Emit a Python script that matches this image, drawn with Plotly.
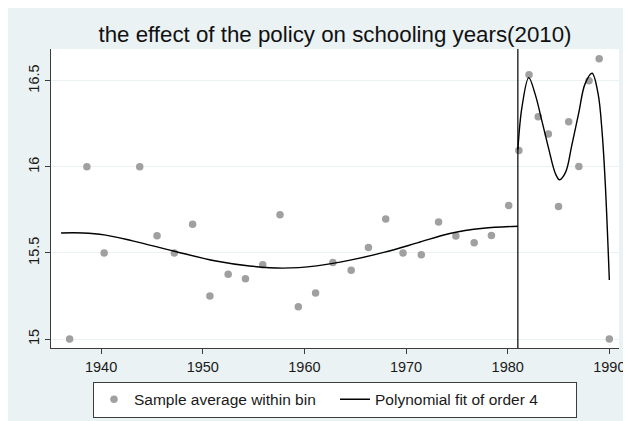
import plotly.graph_objects as go

# Binned sample averages
bin_years = [1936.9, 1938.6, 1940.3, 1943.8, 1945.5, 1947.2, 1949.0, 1950.7, 1952.5, 1954.2,
             1955.9, 1957.6, 1959.4, 1961.1, 1962.8, 1964.6, 1966.3, 1968.0, 1969.7, 1971.5,
             1973.2, 1974.9, 1976.7, 1978.4, 1980.1,
             1981.1, 1982.1, 1983.0, 1984.0, 1985.0, 1986.0, 1987.0, 1988.0, 1989.0, 1990.0]
bin_means = [15.00, 16.00, 15.50, 16.00, 15.60, 15.50, 15.666, 15.25, 15.376, 15.35,
             15.431, 15.722, 15.188, 15.268, 15.445, 15.40, 15.532, 15.697, 15.50, 15.489,
             15.68, 15.599, 15.559, 15.601, 15.776,
             16.094, 16.535, 16.291, 16.191, 15.769, 16.262, 16.002, 16.50, 16.628, 15.00]

# Polynomial fit, before the cutoff
fit_left_years = [1936.06, 1938.2, 1940.3, 1943.1, 1947.2, 1951.3, 1954.6, 1957.9, 1961.2,
                  1964.5, 1967.8, 1971.1, 1974.3, 1977.6, 1981.0]
fit_left_vals = [15.616, 15.616, 15.605, 15.570, 15.510, 15.453, 15.424, 15.412, 15.425,
                 15.458, 15.503, 15.558, 15.613, 15.643, 15.655]

# Polynomial fit after the cutoff
fit_right_years = [1981.0, 1981.4, 1982.07, 1982.7, 1983.4, 1984.0, 1984.7, 1985.1, 1985.7,
                   1986.3, 1987.0, 1987.6, 1988.3, 1988.9, 1989.3, 1989.6, 1990.0]
fit_right_vals = [16.10, 16.345, 16.518, 16.422, 16.258, 16.113, 15.96, 15.925, 15.969,
                  16.123, 16.316, 16.48, 16.543, 16.422, 16.191, 15.902, 15.343]

cutoff = 1981.0
x_ticks = [1940, 1950, 1960, 1970, 1980, 1990]
y_ticks = [15, 15.5, 16, 16.5]
y_tick_labels = ["15", "15.5", "16", "16.5"]

FONT = "Liberation Sans, Arial, sans-serif"
BG = "#EAF2F3"
GRID = "#EAF2F3"
AXIS = "#3c3c3c"

W, H = 623, 413  # page body has an 8px margin
L, R, T, B = 43, 12, 41, 73
PW, PH = W - L - R, H - T - B

fig = go.Figure()
fig.add_trace(go.Scatter(
    x=bin_years, y=bin_means, mode="markers",
    marker=dict(color="#a0a0a0", size=7.5, line=dict(width=0)),
    name="Sample average within bin"))
fig.add_trace(go.Scatter(
    x=fit_left_years, y=fit_left_vals, mode="lines",
    line=dict(color="black", width=1.4, shape="spline", smoothing=1.0),
    name="Polynomial fit of order 4"))
fig.add_trace(go.Scatter(
    x=fit_right_years, y=fit_right_vals, mode="lines",
    line=dict(color="black", width=1.4, shape="spline", smoothing=1.0),
    name="Polynomial fit of order 4", showlegend=False))

# graph-region background drawn as SVG shapes (whole figure, then white plot region)
fig.add_shape(type="rect", xref="paper", yref="paper", layer="below",
              x0=-L / PW, x1=1 + R / PW, y0=-B / PH, y1=1 + T / PH,
              fillcolor=BG, line=dict(width=0))
fig.add_shape(type="rect", xref="paper", yref="paper", layer="below",
              x0=0, x1=1, y0=0, y1=1, fillcolor="white", line=dict(width=0))
fig.add_shape(type="line", xref="x", yref="paper", x0=cutoff, x1=cutoff, y0=0, y1=1,
              line=dict(color="black", width=1.2))

fig.update_layout(
    width=W, height=H,
    margin=dict(l=L, r=R, t=T, b=B, autoexpand=False),
    paper_bgcolor=BG, plot_bgcolor="rgba(0,0,0,0)",
    font=dict(family=FONT, color="#1a1a1a", size=14),
    title=dict(text="the effect of the policy on schooling years(2010)",
               x=(L + 284) / W, xanchor="center", y=1 - 26 / H, yanchor="middle",
               font=dict(family=FONT, size=22.3, color="#111")),
    xaxis=dict(range=[1935.07, 1990.95], tickvals=x_ticks, ticks="outside", ticklen=5,
               tickcolor=AXIS, showline=True, linecolor=AXIS, linewidth=1.2,
               showgrid=False, zeroline=False, tickfont=dict(size=14.5), automargin=False),
    yaxis=dict(range=[14.948, 16.684], tickvals=y_ticks, ticktext=y_tick_labels,
               ticks="outside", ticklen=5, tickcolor=AXIS, tickangle=-90,
               showline=True, linecolor=AXIS, linewidth=1.2,
               showgrid=True, gridcolor=GRID, gridwidth=1, zeroline=False,
               tickfont=dict(size=14.5), automargin=False),
    legend=dict(orientation="h", x=0.5, xanchor="center", y=(340 - 373.7) / 299,
                yanchor="top", bgcolor="white", bordercolor=AXIS, borderwidth=1,
                font=dict(size=15.5), entrywidth=196, itemwidth=30),
    showlegend=True,
)

fig.write_html("out.html")
